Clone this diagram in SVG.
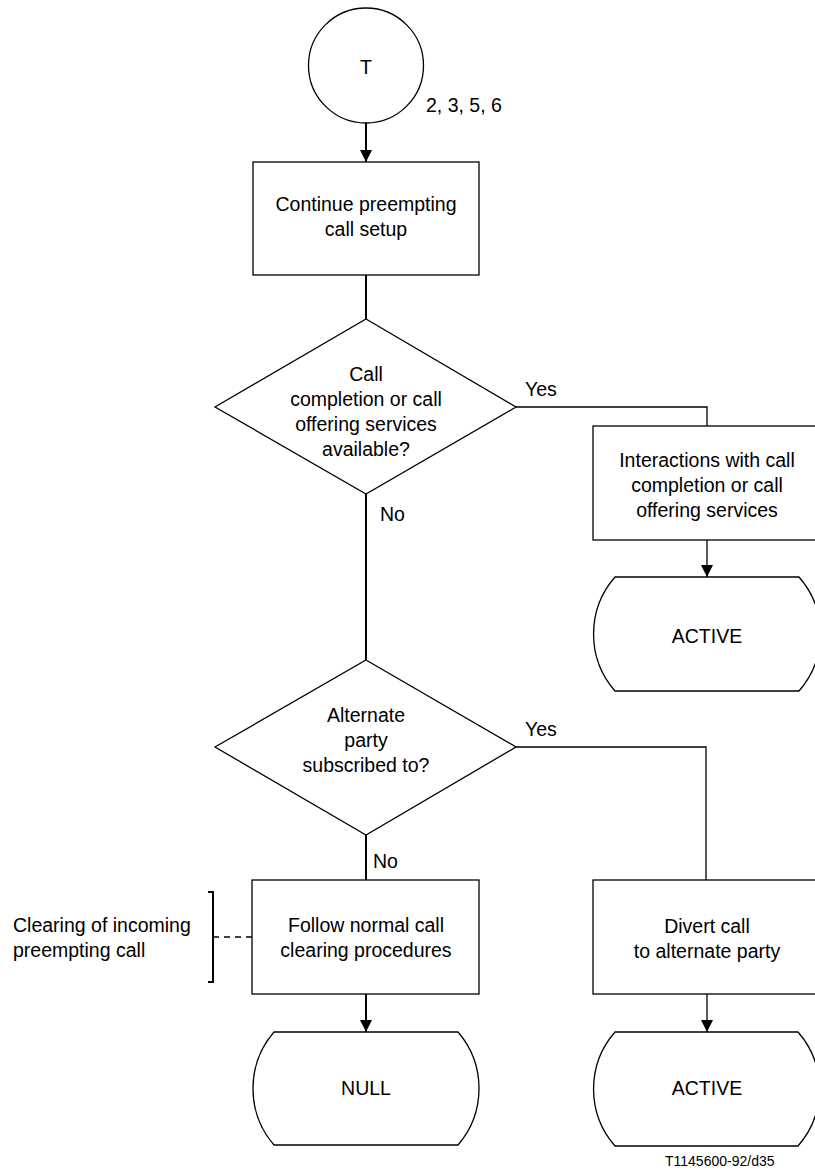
<svg xmlns="http://www.w3.org/2000/svg" width="815" height="1171" viewBox="0 0 815 1171">
<style>
  .shape { fill: #fff; stroke: #000; stroke-width: 1.3; }
  .conn { fill: none; stroke: #000; stroke-width: 1.3; }
  .stem { fill: none; stroke: #000; stroke-width: 2; }
  text { font-family: "Liberation Sans", Arial, sans-serif; font-size: 19.5px; fill: #000; }
  .c { text-anchor: middle; }
  .small { font-size: 14px; }
</style>
<defs>
  <marker id="arrow" viewBox="0 0 12 12" refX="12" refY="6" markerWidth="12" markerHeight="13" markerUnits="userSpaceOnUse" orient="auto">
    <path d="M0,0 L12,6 L0,12 Z" fill="#000"/>
  </marker>
</defs>
<rect width="815" height="1171" fill="#fff"/>

<g id="connectors">
  <line class="stem" x1="366" y1="123" x2="366" y2="162" marker-end="url(#arrow)"/>
  <line class="stem" x1="366" y1="275" x2="366" y2="319"/>
  <polyline class="conn" points="516,407 707,407 707,426"/>
  <line class="conn" x1="707" y1="540" x2="707" y2="577" marker-end="url(#arrow)"/>
  <line class="stem" x1="366" y1="494" x2="366" y2="660"/>
  <polyline class="conn" points="516,747 706,747 706,880"/>
  <line class="stem" x1="366" y1="835" x2="366" y2="880"/>
  <line class="stem" x1="366" y1="994" x2="366" y2="1032" marker-end="url(#arrow)"/>
  <line class="conn" x1="707" y1="994" x2="707" y2="1032" marker-end="url(#arrow)"/>
  <line class="conn" x1="213" y1="937" x2="252" y2="937" stroke-dasharray="6,5"/>
  <text x="525" y="396">Yes</text>
  <text x="380" y="521">No</text>
  <text x="525" y="736">Yes</text>
  <text x="373" y="868">No</text>
</g>

<g id="start">
  <circle class="shape" cx="366" cy="65.5" r="57.5"/>
  <text class="c" x="366" y="74">T</text>
  <text x="426" y="112">2, 3, 5, 6</text>
</g>

<g id="continue">
  <rect class="shape" x="253" y="162" width="226" height="113"/>
  <text class="c" x="366" y="211">Continue preempting</text>
  <text class="c" x="366" y="236">call setup</text>
</g>

<g id="decision1">
  <polygon class="shape" points="366,319 516,407 366,494 215,407"/>
  <text class="c" x="366" y="381">Call</text>
  <text class="c" x="366" y="406">completion or call</text>
  <text class="c" x="366" y="431">offering services</text>
  <text class="c" x="366" y="456">available?</text>
</g>

<g id="interactions">
  <rect class="shape" x="593" y="426" width="228" height="114"/>
  <text class="c" x="707" y="467">Interactions with call</text>
  <text class="c" x="707" y="492">completion or call</text>
  <text class="c" x="707" y="517">offering services</text>
</g>

<g id="active1">
  <path class="shape" d="M615,577 H799 A86.5,86.5 0 0 1 799,691 H615 A86.5,86.5 0 0 1 615,577 Z"/>
  <text class="c" x="707" y="643">ACTIVE</text>
</g>

<g id="decision2">
  <polygon class="shape" points="366,660 516,747 366,835 215,747"/>
  <text class="c" x="366" y="722">Alternate</text>
  <text class="c" x="366" y="747">party</text>
  <text class="c" x="366" y="772">subscribed to?</text>
</g>

<g id="clearing">
  <rect class="shape" x="252" y="880" width="227" height="114"/>
  <text class="c" x="366" y="932">Follow normal call</text>
  <text class="c" x="366" y="957">clearing procedures</text>
</g>

<g id="comment">
  <path class="stem" d="M208,892 H213 V982 H208"/>
  <text x="13" y="932">Clearing of incoming</text>
  <text x="13" y="957">preempting call</text>
</g>

<g id="divert">
  <rect class="shape" x="593" y="880" width="228" height="114"/>
  <text class="c" x="707" y="933">Divert call</text>
  <text class="c" x="707" y="958">to alternate party</text>
</g>

<g id="null">
  <path class="shape" d="M274,1032 H458 A86.5,86.5 0 0 1 458,1145 H274 A86.5,86.5 0 0 1 274,1032 Z"/>
  <text class="c" x="366" y="1095">NULL</text>
</g>

<g id="active2">
  <path class="shape" d="M615,1032 H798 A86.5,86.5 0 0 1 798,1146 H615 A86.5,86.5 0 0 1 615,1032 Z"/>
  <text class="c" x="707" y="1095">ACTIVE</text>
</g>

<g id="figure-id">
  <text class="small" x="665" y="1166">T1145600-92/d35</text>
</g>
</svg>
